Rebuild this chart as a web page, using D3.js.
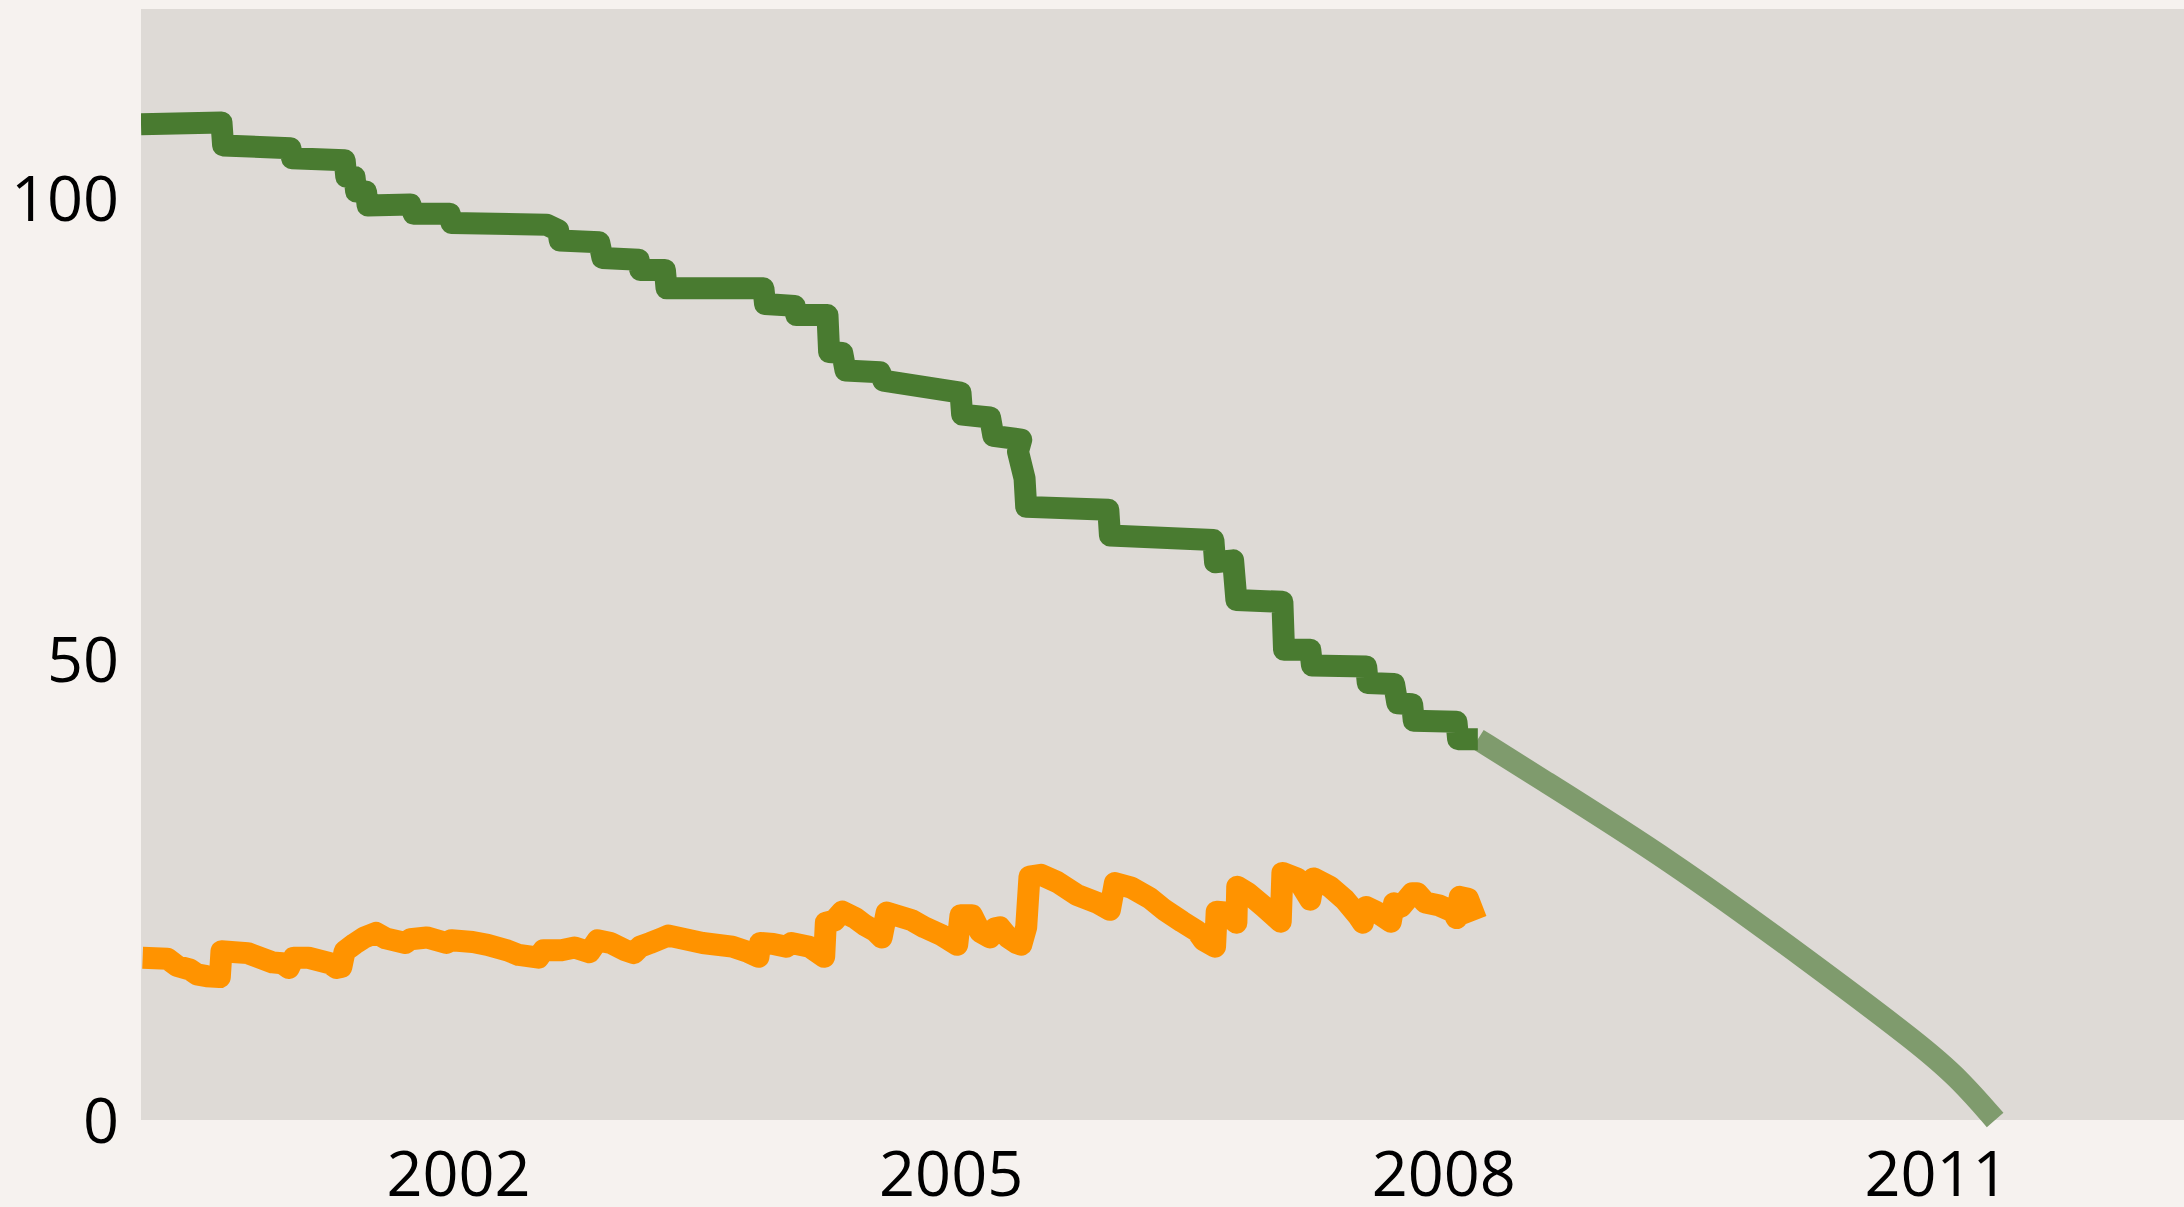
<!DOCTYPE html>
<html>
<head>
<meta charset="utf-8">
<script src="https://cdn.jsdelivr.net/npm/d3@7"></script>
<style>
  body { margin:0; background:#f6f2ef; }
  .tick text { font-family:"Open Sans", sans-serif; font-weight:400; fill:#000; }
</style>
</head>
<body>
<div id="chart-area"></div>
<script>
// decimal years + values
var greenYears = [2000.07,2000.56,2000.57,2000.98,2000.99,2001.31,2001.32,2001.37,2001.38,2001.44,2001.45,2001.71,2001.73,2001.95,2001.96,2002.54,2002.61,2002.62,2002.86,2002.88,2003.10,2003.11,2003.26,2003.27,2003.86,2003.87,2004.05,2004.06,2004.25,2004.26,2004.34,2004.36,2004.57,2004.59,2005.06,2005.07,2005.24,2005.26,2005.43,2005.41,2005.45,2005.46,2005.96,2005.97,2006.60,2006.61,2006.72,2006.74,2007.02,2007.03,2007.19,2007.20,2007.53,2007.54,2007.70,2007.72,2007.81,2007.82,2008.08,2008.09,2008.21];
var greenValues = [108.0,108.2,105.7,105.4,104.3,104.1,102.3,102.3,100.7,100.7,99.2,99.3,98.3,98.3,97.3,97.1,96.5,95.4,95.2,93.5,93.3,92.2,92.2,90.2,90.2,88.5,88.3,87.3,87.3,83.3,83.2,81.3,81.1,80.2,78.9,76.5,76.2,74.2,73.8,72.5,69.6,66.5,66.2,63.4,62.9,60.5,60.7,56.4,56.2,51.0,51.0,49.3,49.2,47.4,47.3,45.2,45.1,43.3,43.2,41.3,41.3];

var projYears = [2008.21,2008.54,2009.39,2010.23,2010.91,2011.15,2011.36];
var projValues = [41.3,37.6,28.1,17.2,8.1,4.3,0.0];

var orangeYears = [2000.08,2000.23,2000.29,2000.37,2000.41,2000.47,2000.55,2000.56,2000.72,2000.87,2000.93,2000.97,2001.00,2001.09,2001.22,2001.26,2001.29,2001.31,2001.37,2001.43,2001.50,2001.56,2001.68,2001.71,2001.81,2001.93,2001.96,2002.09,2002.18,2002.30,2002.37,2002.49,2002.52,2002.63,2002.71,2002.80,2002.85,2002.93,2003.02,2003.07,2003.11,2003.17,2003.24,2003.28,2003.49,2003.67,2003.77,2003.83,2003.84,2003.92,2004.00,2004.03,2004.14,2004.23,2004.24,2004.29,2004.34,2004.42,2004.48,2004.54,2004.58,2004.61,2004.76,2004.84,2004.94,2005.04,2005.06,2005.13,2005.18,2005.24,2005.27,2005.30,2005.35,2005.40,2005.43,2005.46,2005.48,2005.55,2005.65,2005.77,2005.90,2005.97,2006.00,2006.10,2006.21,2006.30,2006.41,2006.50,2006.54,2006.61,2006.62,2006.67,2006.74,2006.745,2006.81,2006.91,2007.01,2007.02,2007.11,2007.19,2007.21,2007.31,2007.40,2007.48,2007.51,2007.53,2007.59,2007.68,2007.70,2007.74,2007.81,2007.84,2007.89,2007.97,2008.06,2008.08,2008.10,2008.15,2008.20];
var orangeValues = [17.6,17.5,16.7,16.3,15.8,15.6,15.5,18.3,18.1,17.1,17.0,16.5,17.6,17.6,17.0,16.5,16.6,18.3,19.1,19.8,20.3,19.7,19.2,19.6,19.8,19.2,19.5,19.3,19.0,18.4,17.9,17.6,18.4,18.4,18.7,18.2,19.5,19.2,18.4,18.1,18.8,19.2,19.7,20.0,19.2,18.8,18.2,17.7,19.2,19.1,18.8,19.2,18.8,17.7,21.4,21.6,22.6,21.9,21.1,20.5,19.8,22.5,21.7,20.9,20.1,19.0,22.2,22.2,20.4,19.8,20.8,20.9,19.8,19.2,19.0,20.9,26.4,26.6,25.8,24.4,23.5,22.8,25.7,25.2,24.1,22.8,21.5,20.5,19.5,18.8,22.6,22.5,21.4,25.3,24.6,23.1,21.5,26.8,26.2,23.9,26.2,25.3,23.9,22.2,21.4,23.1,22.6,21.5,23.5,23.1,24.6,24.6,23.6,23.3,22.6,21.9,24.2,24.0,21.7];

var xTicks = [2002, 2005, 2008, 2011];
var yTicks = [0, 50, 100];

var svgWidth = 2184;
var svgHeight = 1207;
var plot = {left:141, right:2184, top:9, bottom:1120};

var svg = d3.select('#chart-area')
            .append('svg')
            .attr('width', svgWidth)
            .attr('height', svgHeight)
            .style('display', 'block');

svg.append('rect')
   .attr('width', svgWidth)
   .attr('height', svgHeight)
   .attr('fill', '#f6f2ef');

svg.append('rect')
   .attr('x', plot.left)
   .attr('y', plot.top)
   .attr('width', plot.right - plot.left)
   .attr('height', plot.bottom - plot.top)
   .attr('fill', '#dedad6');

svg.append('clipPath').attr('id', 'clip')
   .append('rect')
   .attr('x', plot.left)
   .attr('y', plot.top)
   .attr('width', plot.right - plot.left)
   .attr('height', plot.bottom - plot.top + 10);

var xScale = d3.scaleLinear()
               .domain([2000.07, 2012.51])
               .range([plot.left, plot.right]);

var yScale = d3.scaleLinear()
               .domain([0, 120.5])
               .range([plot.bottom, plot.top]);

// axes, no lines
var xAxis = d3.axisBottom(xScale)
              .tickValues(xTicks)
              .tickFormat(d3.format('d'))
              .tickSize(0);

svg.append('g')
   .attr('transform', 'translate(0,' + plot.bottom + ')')
   .call(xAxis)
   .call(g => g.select('.domain').remove())
   .selectAll('text')
   .attr('y', 54)
   .attr('dy', '0.35em')
   .style('font-size', '63px');

var yAxis = d3.axisLeft(yScale)
              .tickValues(yTicks)
              .tickSize(0);

svg.append('g')
   .attr('transform', 'translate(' + (plot.left - 22) + ',0)')
   .call(yAxis)
   .call(g => g.select('.domain').remove())
   .selectAll('text')
   .attr('x', 0)
   .attr('dy', 22)
   .style('font-size', '63px');

function toPoints(xs, ys) {
    return xs.map(function(d, i) { return [d, ys[i]]; });
}

var line = d3.line()
             .x(d => xScale(d[0]))
             .y(d => yScale(d[1]));

var smooth = d3.line()
               .x(d => xScale(d[0]))
               .y(d => yScale(d[1]))
               .curve(d3.curveBasis);

var lines = svg.append('g').attr('clip-path', 'url(#clip)');

lines.append('path')
     .attr('d', smooth(toPoints(projYears, projValues)))
     .attr('fill', 'none')
     .attr('stroke', '#7f9b6d')
     .attr('stroke-width', 22);

lines.append('path')
     .attr('d', line(toPoints(greenYears, greenValues)))
     .attr('fill', 'none')
     .attr('stroke', '#497b30')
     .attr('stroke-width', 22)
     .attr('stroke-linejoin', 'round');

lines.append('path')
     .attr('d', line(toPoints(orangeYears, orangeValues)))
     .attr('fill', 'none')
     .attr('stroke', '#ff9300')
     .attr('stroke-width', 22)
     .attr('stroke-linejoin', 'round');
</script>
</body>
</html>
